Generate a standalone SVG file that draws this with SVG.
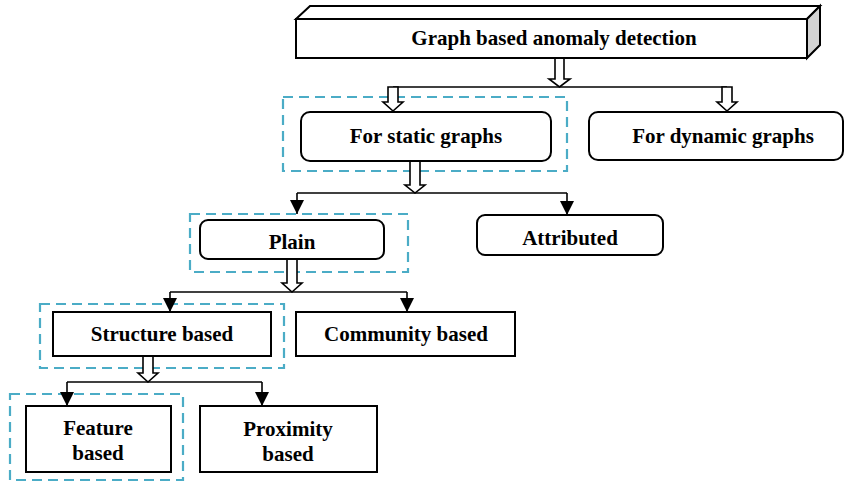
<svg xmlns="http://www.w3.org/2000/svg" width="847" height="482" viewBox="0 0 847 482">
<style>
.box{fill:#fff;stroke:#000;stroke-width:2}
.dash{fill:none;stroke:#4bacc6;stroke-width:2.2;stroke-dasharray:10,6}
.t{font-family:"Liberation Serif","Times New Roman",serif;font-weight:bold;font-size:21px;text-anchor:middle;fill:#000}
.ln{fill:none;stroke:#000;stroke-width:1.6}
.ha{fill:#fff;stroke:#000;stroke-width:1.6;stroke-linejoin:miter}
</style>
<defs>
<marker id="ah" markerWidth="14" markerHeight="14" viewBox="0 0 14 14" refX="14" refY="7" orient="auto" markerUnits="userSpaceOnUse">
<path d="M0,0 L14,7 L0,14 Z" fill="#000"/>
</marker>
</defs>
<rect width="847" height="482" fill="#fff"/>
<g id="dashed-groups">
<rect class="dash" x="283" y="97" width="284" height="74"/>
<rect class="dash" x="190" y="214" width="218" height="58"/>
<rect class="dash" x="40" y="304" width="244" height="64"/>
<rect class="dash" x="10" y="394" width="173" height="86"/>
</g>
<g id="connectors">
<path class="ln" d="M393,87 H727"/>
<path class="ln" d="M297,193 H567"/>
<path class="ln" d="M297,193 V214" marker-end="url(#ah)"/>
<path class="ln" d="M567,193 V215" marker-end="url(#ah)"/>
<path class="ln" d="M170,292 H407"/>
<path class="ln" d="M170,292 V312" marker-end="url(#ah)"/>
<path class="ln" d="M407,292 V312" marker-end="url(#ah)"/>
<path class="ln" d="M67,382 V406" marker-end="url(#ah)"/>
<path class="ln" d="M262,382 V406" marker-end="url(#ah)"/>
<path class="ln" d="M67,382 H262"/>
<polygon class="ha" points="555,58 564,58 564,79 570,79 559.5,87 549,79 555,79"/>
<polygon class="ha" points="388,87 398,87 398,102 403,102 393,111 383,102 388,102"/>
<polygon class="ha" points="722,87 732,87 732,102 737,102 727,111 717,102 722,102"/>
<polygon class="ha" points="410,161 420,161 420,185 425,185 415,193 405,185 410,185"/>
<polygon class="ha" points="287,259 297,259 297,283 302,283 292,292 282,283 287,283"/>
<polygon class="ha" points="143,356 153,356 153,373 158,373 148,382 138,373 143,373"/>
</g>
<g id="root">
<polygon class="box" points="296,19 310,6 820,6 807,19"/>
<polygon points="807,19 820,6 820,45 807,58" fill="#d3d3d3" stroke="#000" stroke-width="2"/>
<rect class="box" x="296" y="19" width="511" height="39"/>
<text class="t" x="554" y="45">Graph based anomaly detection</text>
</g>
<g id="static">
<rect class="box" x="301" y="112" width="250" height="49" rx="9"/>
<text class="t" x="426" y="143">For static graphs</text>
</g>
<g id="dynamic">
<rect class="box" x="589" y="112" width="254" height="48" rx="9"/>
<text class="t" x="723" y="143">For dynamic graphs</text>
</g>
<g id="plain">
<rect class="box" x="200" y="220" width="184" height="39" rx="8"/>
<text class="t" x="292" y="249">Plain</text>
</g>
<g id="attributed">
<rect class="box" x="477" y="215" width="186" height="40" rx="8"/>
<text class="t" x="570" y="245">Attributed</text>
</g>
<g id="structure">
<rect class="box" x="53" y="312" width="218" height="44"/>
<text class="t" x="162" y="341">Structure based</text>
</g>
<g id="community">
<rect class="box" x="296" y="312" width="219" height="44"/>
<text class="t" x="406" y="341">Community based</text>
</g>
<g id="feature">
<rect class="box" x="26" y="406" width="145" height="66"/>
<text class="t" x="98" y="435">Feature</text>
<text class="t" x="98" y="460">based</text>
</g>
<g id="proximity">
<rect class="box" x="200" y="406" width="177" height="66"/>
<text class="t" x="288" y="436">Proximity</text>
<text class="t" x="288" y="461">based</text>
</g>
</svg>
